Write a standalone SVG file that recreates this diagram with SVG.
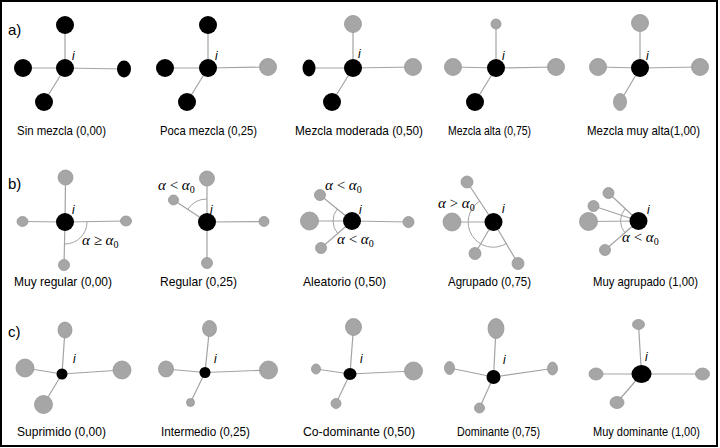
<svg xmlns="http://www.w3.org/2000/svg" width="720" height="448" viewBox="0 0 720 448">
<style>
.e{stroke:#a3a3a3;stroke-width:1.2;fill:none}
.arc{stroke:#a3a3a3;stroke-width:1;fill:none}
.k{fill:#000}
.g{fill:#a6a6a6;stroke:#979797;stroke-width:0.8}
.lbl{font-family:"Liberation Sans",Arial,sans-serif;font-size:13px;fill:#000}
.sec{font-family:"Liberation Sans",Arial,sans-serif;font-size:15px;fill:#000}
.i{font-family:"Liberation Sans",Arial,sans-serif;font-size:12px;font-style:italic;fill:#000}
.m{font-family:"Liberation Serif","DejaVu Serif",serif;font-size:15px;fill:#000}
.mi{font-style:italic}
</style>
<rect x="1" y="1" width="716" height="445" fill="#fff" stroke="#000" stroke-width="2"/>

<g id="connectors">
<!-- row a -->
<line class="e" x1="65" y1="68" x2="65" y2="25"/><line class="e" x1="65" y1="68" x2="23" y2="68"/><line class="e" x1="65" y1="68" x2="124" y2="69"/><line class="e" x1="65" y1="68" x2="44" y2="102"/>
<line class="e" x1="208" y1="68" x2="208" y2="25"/><line class="e" x1="208" y1="68" x2="165" y2="68"/><line class="e" x1="208" y1="68" x2="268" y2="67"/><line class="e" x1="208" y1="68" x2="187" y2="102"/>
<line class="e" x1="353" y1="68" x2="353" y2="24"/><line class="e" x1="353" y1="68" x2="309" y2="68"/><line class="e" x1="353" y1="68" x2="413" y2="67"/><line class="e" x1="353" y1="68" x2="332" y2="102"/>
<line class="e" x1="496" y1="68" x2="496" y2="24"/><line class="e" x1="496" y1="68" x2="453" y2="67"/><line class="e" x1="496" y1="68" x2="556" y2="67"/><line class="e" x1="496" y1="68" x2="475" y2="102"/>
<line class="e" x1="640" y1="68" x2="640" y2="23"/><line class="e" x1="640" y1="68" x2="598" y2="67"/><line class="e" x1="640" y1="68" x2="700" y2="67"/><line class="e" x1="640" y1="68" x2="620" y2="102"/>
<!-- row b -->
<line class="e" x1="65" y1="222" x2="65.5" y2="177.5"/><line class="e" x1="65" y1="222" x2="22.5" y2="221.5"/><line class="e" x1="65" y1="222" x2="126" y2="221"/><line class="e" x1="65" y1="222" x2="64" y2="265"/>
<path class="arc" d="M87,222 A22,22 0 0 1 65,244"/>
<line class="e" x1="207" y1="222" x2="207" y2="178.5"/><line class="e" x1="207" y1="222" x2="173.5" y2="200"/><line class="e" x1="207" y1="222" x2="264" y2="221.5"/><line class="e" x1="207" y1="222" x2="207" y2="263"/>
<path class="arc" d="M207,199 A23,23 0 0 0 187.7,209.5"/>
<line class="e" x1="352" y1="221" x2="309.5" y2="221"/><line class="e" x1="352" y1="221" x2="320" y2="195"/><line class="e" x1="352" y1="221" x2="321" y2="248"/><line class="e" x1="352" y1="221" x2="408.5" y2="222"/>
<path class="arc" d="M337.2,209 A19,19 0 0 0 333,221"/>
<path class="arc" d="M333,221 A19,19 0 0 0 337.7,233.5"/>
<line class="e" x1="493.5" y1="222" x2="452" y2="222"/><line class="e" x1="493.5" y1="222" x2="467" y2="182"/><line class="e" x1="493.5" y1="222" x2="475" y2="253.5"/><line class="e" x1="493.5" y1="222" x2="518" y2="263.5"/>
<path class="arc" d="M479.9,201 A25,25 0 0 0 506.5,243.4"/>
<line class="e" x1="638.5" y1="221" x2="588.5" y2="221.5"/><line class="e" x1="638.5" y1="221" x2="608.5" y2="193"/><line class="e" x1="638.5" y1="221" x2="593.5" y2="206"/><line class="e" x1="638.5" y1="221" x2="605" y2="250"/>
<path class="arc" d="M625.3,208.7 A18,18 0 0 0 625,232.9"/>
<!-- row c -->
<line class="e" x1="62" y1="374" x2="65" y2="330"/><line class="e" x1="62" y1="374" x2="25" y2="368"/><line class="e" x1="62" y1="374" x2="122" y2="370"/><line class="e" x1="62" y1="374" x2="43.5" y2="404.5"/>
<line class="e" x1="205" y1="372.5" x2="209.5" y2="328.5"/><line class="e" x1="205" y1="372.5" x2="166" y2="369"/><line class="e" x1="205" y1="372.5" x2="268.5" y2="370"/><line class="e" x1="205" y1="372.5" x2="190.5" y2="402.5"/>
<line class="e" x1="350" y1="374" x2="353.5" y2="327"/><line class="e" x1="350" y1="374" x2="316" y2="369"/><line class="e" x1="350" y1="374" x2="413.5" y2="371"/><line class="e" x1="350" y1="374" x2="336" y2="403.5"/>
<line class="e" x1="493.5" y1="377" x2="496" y2="328.5"/><line class="e" x1="493.5" y1="377" x2="449.5" y2="368"/><line class="e" x1="493.5" y1="377" x2="552.5" y2="368.5"/><line class="e" x1="493.5" y1="377" x2="479.5" y2="408"/>
<line class="e" x1="641.5" y1="374" x2="638.5" y2="324.5"/><line class="e" x1="641.5" y1="374" x2="596" y2="374"/><line class="e" x1="641.5" y1="374" x2="702.5" y2="374"/><line class="e" x1="641.5" y1="374" x2="617" y2="402.5"/>
</g>

<!-- row a nodes -->
<g id="a1-i"><circle class="k" cx="65" cy="68" r="9"/></g>
<g id="a1-n1"><circle class="k" cx="65" cy="25" r="9"/></g>
<g id="a1-n2"><circle class="k" cx="23" cy="68" r="9"/></g>
<g id="a1-n3"><ellipse class="k" cx="124" cy="69" rx="7" ry="8.5"/></g>
<g id="a1-n4"><circle class="k" cx="44" cy="102" r="9"/></g>

<g id="a2-i"><circle class="k" cx="208" cy="68" r="9"/></g>
<g id="a2-n1"><circle class="k" cx="208" cy="25" r="9"/></g>
<g id="a2-n2"><circle class="k" cx="165" cy="68" r="9"/></g>
<g id="a2-n3"><circle class="g" cx="268" cy="67" r="8.5"/></g>
<g id="a2-n4"><circle class="k" cx="187" cy="102" r="9"/></g>

<g id="a3-i"><circle class="k" cx="353" cy="68" r="9"/></g>
<g id="a3-n1"><circle class="g" cx="353" cy="24" r="8.5"/></g>
<g id="a3-n2"><ellipse class="k" cx="309" cy="68" rx="6.5" ry="8.5"/></g>
<g id="a3-n3"><circle class="g" cx="413" cy="67" r="8.5"/></g>
<g id="a3-n4"><circle class="k" cx="332" cy="102" r="9"/></g>

<g id="a4-i"><circle class="k" cx="496" cy="68" r="9"/></g>
<g id="a4-n1"><circle class="g" cx="496" cy="24" r="5"/></g>
<g id="a4-n2"><circle class="g" cx="453" cy="67" r="8.5"/></g>
<g id="a4-n3"><circle class="g" cx="556" cy="67" r="8.5"/></g>
<g id="a4-n4"><circle class="k" cx="475" cy="102" r="9"/></g>

<g id="a5-i"><circle class="k" cx="640" cy="68" r="9"/></g>
<g id="a5-n1"><circle class="g" cx="640" cy="23" r="8.5"/></g>
<g id="a5-n2"><circle class="g" cx="598" cy="67" r="8.5"/></g>
<g id="a5-n3"><circle class="g" cx="700" cy="67" r="8.5"/></g>
<g id="a5-n4"><ellipse class="g" cx="620" cy="102" rx="6.5" ry="8.5"/></g>

<!-- row b nodes -->
<g id="b1-i"><circle class="k" cx="65" cy="222" r="9"/></g>
<g id="b1-n1"><circle class="g" cx="65.5" cy="177.5" r="7.5"/></g>
<g id="b1-n2"><ellipse class="g" cx="22.5" cy="221.5" rx="5.5" ry="5"/></g>
<g id="b1-n3"><ellipse class="g" cx="126" cy="221" rx="5.5" ry="5"/></g>
<g id="b1-n4"><ellipse class="g" cx="64" cy="265" rx="5.5" ry="5.5"/></g>

<g id="b2-i"><circle class="k" cx="207" cy="222" r="9"/></g>
<g id="b2-n1"><circle class="g" cx="207" cy="178.5" r="7.5"/></g>
<g id="b2-n2"><circle class="g" cx="173.5" cy="200" r="5"/></g>
<g id="b2-n3"><circle class="g" cx="264" cy="221.5" r="5"/></g>
<g id="b2-n4"><circle class="g" cx="207" cy="263" r="5.5"/></g>

<g id="b3-i"><circle class="k" cx="352" cy="221" r="9"/></g>
<g id="b3-n1"><circle class="g" cx="309.5" cy="221" r="9"/></g>
<g id="b3-n2"><circle class="g" cx="320" cy="195" r="5.5"/></g>
<g id="b3-n3"><circle class="g" cx="321" cy="248" r="5.5"/></g>
<g id="b3-n4"><circle class="g" cx="408.5" cy="222" r="5.5"/></g>

<g id="b4-i"><circle class="k" cx="493.5" cy="222" r="9"/></g>
<g id="b4-n1"><circle class="g" cx="452" cy="222" r="9"/></g>
<g id="b4-n2"><circle class="g" cx="467" cy="182" r="6"/></g>
<g id="b4-n3"><circle class="g" cx="475" cy="253.5" r="6"/></g>
<g id="b4-n4"><circle class="g" cx="518" cy="263.5" r="6"/></g>

<g id="b5-i"><circle class="k" cx="638.5" cy="221" r="9"/></g>
<g id="b5-n1"><circle class="g" cx="588.5" cy="221.5" r="9"/></g>
<g id="b5-n2"><circle class="g" cx="608.5" cy="193" r="5.5"/></g>
<g id="b5-n3"><circle class="g" cx="593.5" cy="206" r="5.5"/></g>
<g id="b5-n4"><circle class="g" cx="605" cy="250" r="5.5"/></g>

<!-- row c nodes -->
<g id="c1-i"><circle class="k" cx="62" cy="374" r="5.5"/></g>
<g id="c1-n1"><ellipse class="g" cx="65" cy="330" rx="7" ry="8"/></g>
<g id="c1-n2"><circle class="g" cx="25" cy="368" r="9"/></g>
<g id="c1-n3"><circle class="g" cx="122" cy="370" r="9"/></g>
<g id="c1-n4"><circle class="g" cx="43.5" cy="404.5" r="9"/></g>

<g id="c2-i"><circle class="k" cx="205" cy="372.5" r="5.5"/></g>
<g id="c2-n1"><ellipse class="g" cx="209.5" cy="328.5" rx="7" ry="8"/></g>
<g id="c2-n2"><ellipse class="g" cx="166" cy="369" rx="7.5" ry="8"/></g>
<g id="c2-n3"><circle class="g" cx="268.5" cy="370" r="9"/></g>
<g id="c2-n4"><circle class="g" cx="190.5" cy="402.5" r="4"/></g>

<g id="c3-i"><ellipse class="k" cx="350" cy="374" rx="6.5" ry="6"/></g>
<g id="c3-n1"><ellipse class="g" cx="353.5" cy="327" rx="8" ry="8.5"/></g>
<g id="c3-n2"><ellipse class="g" cx="316" cy="369" rx="4.5" ry="5"/></g>
<g id="c3-n3"><circle class="g" cx="413.5" cy="371" r="9"/></g>
<g id="c3-n4"><circle class="g" cx="336" cy="403.5" r="5"/></g>

<g id="c4-i"><circle class="k" cx="493.5" cy="377" r="7"/></g>
<g id="c4-n1"><ellipse class="g" cx="496" cy="328.5" rx="8" ry="10"/></g>
<g id="c4-n2"><ellipse class="g" cx="449.5" cy="368" rx="5" ry="6.5"/></g>
<g id="c4-n3"><ellipse class="g" cx="552.5" cy="368.5" rx="5" ry="6.5"/></g>
<g id="c4-n4"><circle class="g" cx="479.5" cy="408" r="5"/></g>

<g id="c5-i"><ellipse class="k" cx="641.5" cy="374" rx="10" ry="9"/></g>
<g id="c5-n1"><ellipse class="g" cx="638.5" cy="324.5" rx="6" ry="5"/></g>
<g id="c5-n2"><ellipse class="g" cx="596" cy="374" rx="7" ry="6"/></g>
<g id="c5-n3"><ellipse class="g" cx="702.5" cy="374" rx="7" ry="6"/></g>
<g id="c5-n4"><ellipse class="g" cx="617" cy="402.5" rx="7" ry="6"/></g>

<g id="labels">
<text class="sec" x="8" y="35">a)</text>
<text class="sec" x="8" y="189">b)</text>
<text class="sec" x="8" y="337">c)</text>

<text class="i" x="72" y="60">i</text>
<text class="i" x="215" y="60">i</text>
<text class="i" x="358" y="58">i</text>
<text class="i" x="502" y="60">i</text>
<text class="i" x="646" y="60">i</text>
<text class="i" x="72" y="214">i</text>
<text class="i" x="210" y="214">i</text>
<text class="i" x="359" y="214">i</text>
<text class="i" x="502" y="213">i</text>
<text class="i" x="647" y="214">i</text>
<text class="i" x="73" y="363">i</text>
<text class="i" x="214" y="363">i</text>
<text class="i" x="360" y="363">i</text>
<text class="i" x="503" y="364">i</text>
<text class="i" x="645" y="361">i</text>

<text class="m" x="82" y="245"><tspan class="mi">α</tspan> ≥ <tspan class="mi">α</tspan><tspan font-size="10" dy="3">0</tspan></text>
<text class="m" x="158" y="190"><tspan class="mi">α</tspan> &lt; <tspan class="mi">α</tspan><tspan font-size="10" dy="3">0</tspan></text>
<text class="m" x="325" y="190"><tspan class="mi">α</tspan> &lt; <tspan class="mi">α</tspan><tspan font-size="10" dy="3">0</tspan></text>
<text class="m" x="337" y="244"><tspan class="mi">α</tspan> &lt; <tspan class="mi">α</tspan><tspan font-size="10" dy="3">0</tspan></text>
<text class="m" x="438" y="208"><tspan class="mi">α</tspan> &gt; <tspan class="mi">α</tspan><tspan font-size="10" dy="3">0</tspan></text>
<text class="m" x="622" y="242"><tspan class="mi">α</tspan> &lt; <tspan class="mi">α</tspan><tspan font-size="10" dy="3">0</tspan></text>

<text class="lbl" x="17" y="135" textLength="89" lengthAdjust="spacingAndGlyphs">Sin mezcla (0,00)</text>
<text class="lbl" x="160" y="135" textLength="97" lengthAdjust="spacingAndGlyphs">Poca mezcla (0,25)</text>
<text class="lbl" x="295" y="135" textLength="128" lengthAdjust="spacingAndGlyphs">Mezcla moderada (0,50)</text>
<text class="lbl" x="448" y="135" textLength="83" lengthAdjust="spacingAndGlyphs">Mezcla alta (0,75)</text>
<text class="lbl" x="587" y="135" textLength="113" lengthAdjust="spacingAndGlyphs">Mezcla muy alta(1,00)</text>

<text class="lbl" x="14" y="286" textLength="98" lengthAdjust="spacingAndGlyphs">Muy regular (0,00)</text>
<text class="lbl" x="160" y="286" textLength="77" lengthAdjust="spacingAndGlyphs">Regular (0,25)</text>
<text class="lbl" x="303" y="286" textLength="83" lengthAdjust="spacingAndGlyphs">Aleatorio (0,50)</text>
<text class="lbl" x="448" y="286" textLength="83" lengthAdjust="spacingAndGlyphs">Agrupado (0,75)</text>
<text class="lbl" x="593" y="286" textLength="105" lengthAdjust="spacingAndGlyphs">Muy agrupado (1,00)</text>

<text class="lbl" x="17" y="436" textLength="89" lengthAdjust="spacingAndGlyphs">Suprimido (0,00)</text>
<text class="lbl" x="161" y="436" textLength="89" lengthAdjust="spacingAndGlyphs">Intermedio (0,25)</text>
<text class="lbl" x="303" y="436" textLength="112" lengthAdjust="spacingAndGlyphs">Co-dominante (0,50)</text>
<text class="lbl" x="457" y="436" textLength="83" lengthAdjust="spacingAndGlyphs">Dominante (0,75)</text>
<text class="lbl" x="593" y="436" textLength="107" lengthAdjust="spacingAndGlyphs">Muy dominante (1,00)</text>
</g>
</svg>
